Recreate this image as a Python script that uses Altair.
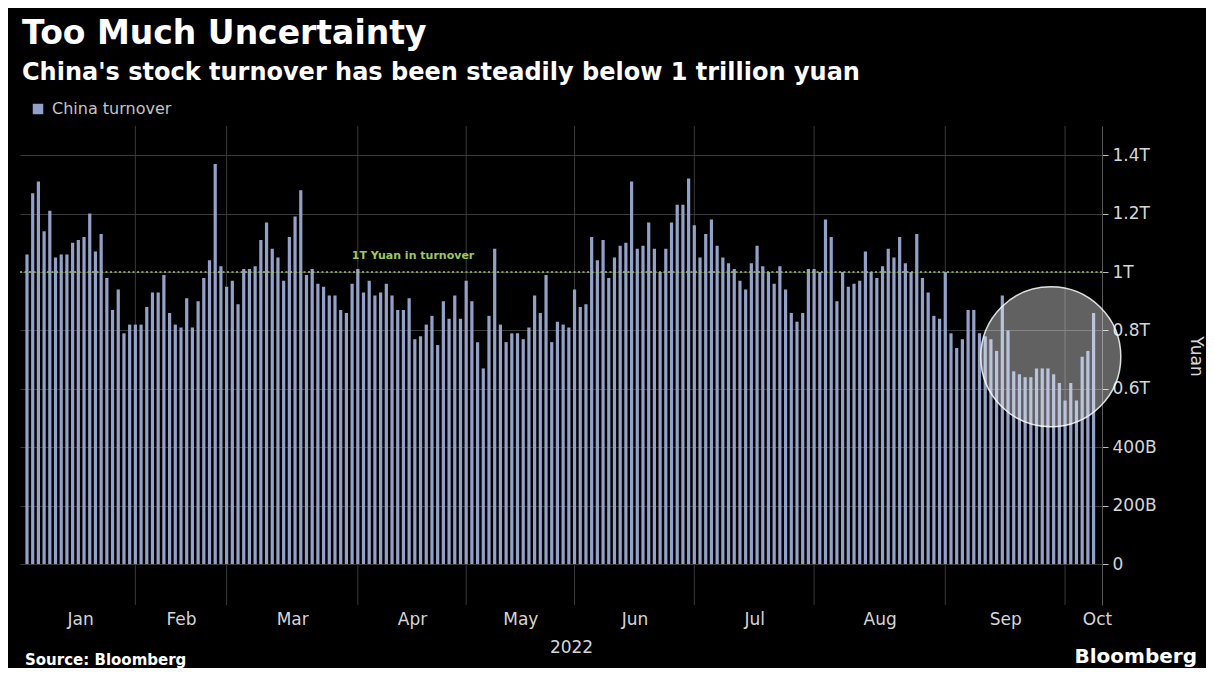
import altair as alt
import pandas as pd

TITLE = "Too Much Uncertainty"
SUBTITLE = "China's stock turnover has been steadily below 1 trillion yuan"
SERIES = "China turnover"
SOURCE = "Source: Bloomberg"
BRAND = "Bloomberg"
YEAR = "2022"
Y_TITLE = "Yuan"
LINE_LABEL = "1T Yuan in turnover"
THRESHOLD = 1.0

month_names = ["Jan", "Feb", "Mar", "Apr", "May", "Jun", "Jul", "Aug", "Sep", "Oct"]

# daily A-share turnover, trillion yuan, one value per trading day
jan = [1.06, 1.27, 1.31, 1.14, 1.21, 1.05, 1.06, 1.06, 1.10, 1.11, 1.12, 1.20, 1.07, 1.13,
       0.98, 0.87, 0.94, 0.79, 0.82]
feb = [0.82, 0.82, 0.88, 0.93, 0.93, 0.99, 0.86, 0.82, 0.81, 0.91, 0.81, 0.90, 0.98, 1.04,
       1.37, 1.02]
mar = [0.95, 0.97, 0.89, 1.01, 1.01, 1.02, 1.11, 1.17, 1.08, 1.05, 0.97, 1.12, 1.19, 1.28,
       0.99, 1.01, 0.96, 0.95, 0.92, 0.92, 0.87, 0.86, 0.96]
apr = [1.01, 0.93, 0.97, 0.92, 0.93, 0.96, 0.92, 0.87, 0.87, 0.91, 0.77, 0.78, 0.82, 0.85,
       0.75, 0.90, 0.84, 0.92, 0.84]
may = [0.97, 0.90, 0.76, 0.67, 0.85, 1.08, 0.82, 0.76, 0.79, 0.79, 0.77, 0.81, 0.92, 0.86,
       0.99, 0.76, 0.83, 0.82, 0.81]
jun = [0.94, 0.88, 0.89, 1.12, 1.04, 1.11, 0.98, 1.05, 1.09, 1.10, 1.31, 1.08, 1.09, 1.17,
       1.08, 1.00, 1.08, 1.17, 1.23, 1.23, 1.32]
jul = [1.16, 1.05, 1.13, 1.18, 1.09, 1.05, 1.03, 1.01, 0.97, 0.94, 1.03, 1.09, 1.02, 1.00,
       0.96, 1.02, 0.94, 0.86, 0.83, 0.86, 1.01]
aug = [1.01, 1.00, 1.18, 1.12, 0.90, 1.00, 0.95, 0.96, 0.97, 1.07, 1.00, 0.98, 1.02, 1.08,
       1.05, 1.12, 1.03, 1.00, 1.13, 0.98, 0.93, 0.85, 0.84]
sep = [1.00, 0.79, 0.74, 0.77, 0.87, 0.87, 0.79, 0.78, 0.77, 0.73, 0.92, 0.80, 0.66, 0.65,
       0.64, 0.64, 0.67, 0.67, 0.67, 0.65, 0.62]
oct_ = [0.56, 0.62, 0.56, 0.71, 0.73, 0.86]

monthly = [jan, feb, mar, apr, may, jun, jul, aug, sep, oct_]
y_ticks = [0, 0.2, 0.4, 0.6, 0.8, 1.0, 1.2, 1.4]
HIGHLIGHT_DAYS = 16  # last trading days circled in the reference

# ---- build table -------------------------------------------------------
rows, starts = [], []
i = 1
for name, vals in zip(month_names, monthly):
    starts.append(i)
    for v in vals:
        rows.append({"idx": i, "value": v, "month": name, "series": SERIES})
        i += 1
df = pd.DataFrame(rows)
n_days = len(df)

X_MIN, X_MAX = 0.65, n_days + 0.6
Y_MIN, Y_MAX = -0.14, 1.5

bounds = [X_MIN] + starts[1:] + [X_MAX]
centers = [round((bounds[k] + bounds[k + 1]) / 2, 3) for k in range(len(month_names) - 1)]
centers.append(round(X_MAX, 3))
label_expr = " : ".join(
    f"datum.value == {c} ? '{m}'" for c, m in zip(centers, month_names)
) + " : ''"

grid_df = pd.DataFrame({"idx": starts[1:]})
thr_df = pd.DataFrame({"value": [THRESHOLD], "idx": [starts[3]], "label": [LINE_LABEL]})

FONT = "DejaVu Sans"
BAR = "#93a1c8"
TXT = "#d6d6d6"
GREEN = "#9dc85a"

x_enc = alt.X(
    "idx:Q",
    scale=alt.Scale(domain=[X_MIN, X_MAX], nice=False, zero=False),
    axis=alt.Axis(
        values=centers, labelExpr=label_expr, title=YEAR, grid=False, ticks=False,
        domain=False, labelFlush=False, labelOverlap=False, labelFont=FONT,
        labelFontSize=17, labelColor=TXT, labelPadding=6, titleFont=FONT,
        titleFontSize=17, titleColor=TXT, titleFontWeight="normal", titlePadding=12,
        titleX=551,
    ),
)
y_enc = alt.Y(
    "value:Q",
    scale=alt.Scale(domain=[Y_MIN, Y_MAX], nice=False, zero=False),
    axis=alt.Axis(
        orient="right", values=y_ticks,
        labelExpr="datum.value == 0 ? '0' : (datum.value < 0.5 ? format(datum.value*1000, 'd') + 'B' : format(datum.value, '~g') + 'T')",
        grid=True, gridColor="#3a3a3a", gridWidth=1, tickSize=6, tickColor="#bdbdbd",
        domain=True, domainColor="#5a5a5a", labelFont=FONT, labelFontSize=17,
        labelColor=TXT, labelPadding=4, title=Y_TITLE, titleFont=FONT, titleFontSize=17,
        titleColor=TXT, titleFontWeight="normal", titleAngle=90, titleAlign="center",
        titleBaseline="middle", titleX=93, titleY=230,
    ),
)

month_grid = alt.Chart(grid_df).mark_rule(color="#3a3a3a", strokeWidth=1).encode(x=x_enc)

bars = alt.Chart(df).mark_bar(size=3.2).encode(
    x=x_enc,
    y=y_enc,
    color=alt.Color(
        "series:N",
        scale=alt.Scale(domain=[SERIES], range=[BAR]),
        legend=alt.Legend(
            orient="none", legendX=10, legendY=-25, title=None, symbolType="square",
            symbolSize=110, symbolStrokeWidth=0, symbolOpacity=1, labelFont=FONT,
            labelFontSize=16, labelColor="#c4c4c4", labelOffset=6,
        ),
    ),
)

thr_rule = alt.Chart(thr_df).mark_rule(
    color=GREEN, strokeWidth=1.5, strokeDash=[2, 2.5]
).encode(y=y_enc)

thr_text = alt.Chart(thr_df).mark_text(
    align="left", baseline="middle", dx=-6, dy=-16, font=FONT, fontSize=11,
    fontWeight="bold", color=GREEN,
).encode(x=x_enc, y=y_enc, text="label:N")

circle = (
    alt.Chart(df)
    .transform_filter(alt.datum.idx > n_days - HIGHLIGHT_DAYS)
    .transform_aggregate(idx="mean(idx)", vmin="min(value)", vmax="max(value)")
    .transform_calculate(value="(datum.vmin + datum.vmax) / 2")
    .mark_circle(
        size=19600, fill="#ffffff", fillOpacity=0.38, stroke="#ffffff",
        strokeOpacity=0.85, strokeWidth=1.5, opacity=1,
    )
    .encode(x=x_enc, y=y_enc)
)


def text_layer(txt, x, y, size, weight="bold", color="#ffffff", align="left"):
    return alt.Chart(pd.DataFrame({"t": [txt]})).mark_text(
        align=align, baseline="alphabetic", font=FONT, fontSize=size,
        fontWeight=weight, color=color,
    ).encode(text="t:N", x=alt.value(x), y=alt.value(y))


title = text_layer(TITLE, 2, -82, 33)
subtitle = text_layer(SUBTITLE, 2, -46, 24)
source = text_layer(SOURCE, 5, 539, 15)
brand = text_layer(BRAND, 1177, 537, 20, align="right")

chart = (
    alt.layer(month_grid, bars, thr_rule, thr_text, circle, title, subtitle, source, brand)
    .properties(
        width=1082, height=479, background="#000000",
        autosize=alt.AutoSizeParams(type="none"),
        padding={"left": 12, "top": 118, "right": 104, "bottom": 63},
    )
    .configure_view(strokeWidth=0)
)

chart.save("out.html", embed_options={"renderer": "svg", "actions": False})
